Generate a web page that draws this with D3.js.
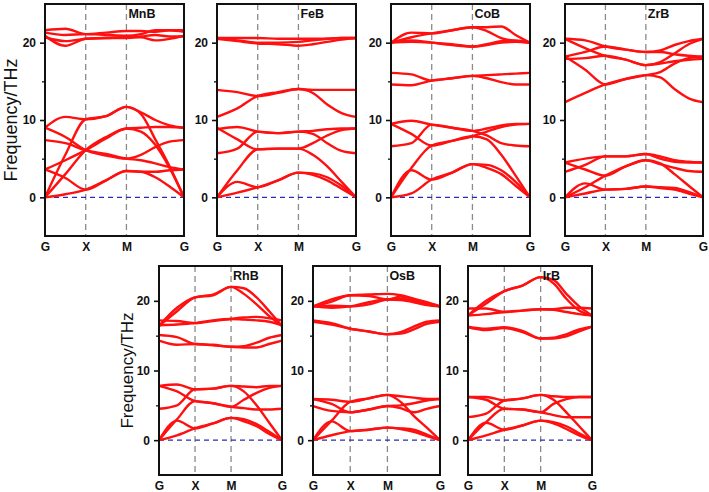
<!DOCTYPE html>
<html><head><meta charset="utf-8">
<script src="https://cdn.jsdelivr.net/npm/d3@7"></script>
<style>body{margin:0;background:#fff}svg{display:block}</style>
</head><body><svg id="c" width="709" height="492"></svg>
<script>
// ---- data ----
const kPoints = [0, 0.25, 0.5, 0.75, 1, 1.177, 1.354, 1.53, 1.707];
const symPoints = [0, 0.5, 1, 1.707];
const symLabels = ["G", "X", "M", "G"];
const yTicks = [0, 10, 20];
const yMinorTicks = [5, 15];
const materials = ["MnB", "FeB", "CoB", "ZrB", "RhB", "OsB", "IrB"];

const mnbBands = [
  [0, 0.4, 1.0, 2.2, 3.4, 3.3, 2.6, 1.4, 0],
  [3.6, 2.5, 1.0, 2.2, 3.4, 3.3, 3.3, 3.5, 3.6],
  [0, 3.0, 6.1, 7.8, 8.9, 9.0, 9.1, 9.1, 9.0],
  [3.6, 4.8, 6.1, 7.6, 8.9, 8.5, 6.8, 3.8, 0],
  [7.4, 7.0, 6.1, 5.6, 5.0, 4.8, 4.4, 3.9, 3.6],
  [9.0, 7.8, 6.1, 5.4, 5.0, 5.5, 6.5, 7.2, 7.4],
  [0, 5.5, 10.1, 10.5, 11.7, 10.8, 7.5, 4.0, 0],
  [9.0, 10.4, 10.1, 10.5, 11.7, 11.0, 10.0, 9.3, 9.0],
  [21.6, 21.8, 21.1, 21.3, 21.5, 21.5, 21.4, 21.6, 21.6],
  [21.3, 21.0, 21.1, 21.0, 20.9, 21.1, 21.6, 21.6, 21.4],
  [20.9, 19.6, 20.5, 20.6, 20.7, 20.7, 20.3, 20.5, 20.9],
  [20.7, 20.2, 20.5, 20.6, 20.6, 20.8, 21.0, 20.8, 20.8]
];
const febBands = [
  [0, 0.6, 1.3, 2.2, 3.2, 3.1, 2.6, 1.5, 0],
  [0, 2.0, 1.3, 2.2, 3.2, 2.9, 2.2, 1.1, 0],
  [0, 3.5, 6.2, 6.3, 6.3, 5.5, 4.0, 2.0, 0],
  [9.0, 7.5, 6.2, 6.3, 6.3, 7.0, 8.0, 8.7, 8.9],
  [5.7, 6.3, 8.5, 8.3, 8.5, 8.2, 7.0, 6.0, 5.7],
  [8.8, 9.1, 8.5, 8.3, 8.5, 8.6, 8.8, 8.9, 8.9],
  [13.9, 13.6, 13.1, 13.5, 14.0, 13.9, 13.9, 13.9, 13.9],
  [10.4, 11.5, 13.1, 13.6, 14.0, 13.5, 12.0, 10.9, 10.4],
  [20.6, 20.6, 20.6, 20.5, 20.5, 20.5, 20.5, 20.6, 20.6],
  [20.6, 20.3, 20.0, 20.0, 20.1, 20.3, 20.5, 20.6, 20.6],
  [20.5, 20.2, 19.9, 19.8, 19.6, 19.8, 20.1, 20.4, 20.6]
];
const cobBands = [
  [0, 0.5, 2.3, 3.2, 4.3, 4.2, 3.5, 2.0, 0],
  [0, 3.5, 2.3, 3.2, 4.3, 3.8, 3.0, 1.5, 0],
  [0, 3.8, 6.7, 7.3, 7.9, 7.5, 5.5, 2.8, 0],
  [9.5, 8.2, 6.7, 7.3, 7.9, 8.5, 9.1, 9.4, 9.5],
  [6.6, 7.0, 9.4, 9.0, 8.6, 8.0, 7.0, 6.7, 6.6],
  [9.5, 9.9, 9.4, 9.0, 8.6, 8.9, 9.3, 9.5, 9.5],
  [16.1, 15.9, 15.1, 15.4, 15.7, 15.8, 15.9, 16.0, 16.1],
  [14.6, 14.5, 15.1, 15.4, 15.7, 15.4, 14.9, 14.6, 14.6],
  [20.0, 21.3, 21.2, 21.6, 22.0, 22.0, 22.1, 21.0, 20.0],
  [20.0, 20.7, 21.2, 21.6, 22.0, 21.5, 20.6, 20.2, 20.0],
  [20.0, 20.1, 20.0, 19.8, 19.5, 19.7, 20.0, 20.1, 20.0],
  [20.0, 20.3, 20.0, 19.7, 19.5, 19.8, 20.2, 20.3, 20.0]
];
const zrbBands = [
  [0, 0.5, 1.0, 1.1, 1.4, 1.3, 1.2, 0.7, 0],
  [0, 1.8, 1.0, 1.1, 1.4, 1.2, 1.0, 0.5, 0],
  [0, 1.3, 2.8, 4.0, 4.8, 4.4, 3.0, 1.5, 0],
  [4.5, 3.6, 2.8, 4.0, 4.8, 4.3, 3.8, 3.4, 3.3],
  [3.3, 4.2, 5.3, 5.3, 5.6, 5.0, 4.6, 4.5, 4.5],
  [4.5, 5.0, 5.3, 5.3, 5.6, 5.3, 4.8, 4.6, 4.5],
  [20.5, 20.3, 19.5, 19.1, 18.8, 19.0, 19.7, 20.2, 20.5],
  [18.2, 18.8, 19.5, 19.1, 18.8, 18.8, 18.5, 18.3, 18.2],
  [20.5, 19.3, 18.3, 17.8, 17.1, 17.5, 18.6, 19.8, 20.5],
  [17.9, 18.0, 18.3, 17.8, 17.1, 17.3, 17.6, 17.8, 17.9],
  [18.2, 16.5, 14.6, 15.3, 15.8, 16.2, 17.3, 18.0, 18.2],
  [12.3, 13.5, 14.6, 15.3, 15.8, 15.5, 14.0, 12.8, 12.3]
];
const rhbBands = [
  [0, 0.7, 1.7, 2.4, 3.2, 3.0, 2.3, 1.2, 0],
  [0, 2.8, 1.7, 2.4, 3.2, 2.7, 2.0, 0.9, 0],
  [0, 3.0, 5.6, 5.3, 4.8, 4.6, 4.4, 4.4, 4.5],
  [7.8, 7.0, 5.6, 5.3, 4.8, 5.8, 6.8, 7.5, 7.8],
  [4.5, 5.0, 7.3, 7.4, 7.8, 7.0, 5.0, 2.5, 0],
  [7.8, 8.0, 7.3, 7.4, 7.8, 7.7, 7.6, 7.8, 7.8],
  [15.1, 14.8, 13.8, 13.7, 13.4, 13.5, 14.0, 14.7, 15.1],
  [14.3, 13.7, 13.8, 13.6, 13.4, 13.3, 13.3, 13.8, 14.3],
  [16.4, 19.0, 20.5, 20.8, 22.0, 21.8, 20.5, 18.5, 16.4],
  [16.4, 18.5, 20.5, 20.9, 22.0, 21.0, 19.5, 17.8, 16.4],
  [17.2, 17.1, 16.8, 17.1, 17.4, 17.6, 17.7, 17.5, 17.2],
  [16.5, 16.6, 16.8, 17.2, 17.4, 17.3, 17.2, 17.0, 16.5]
];
const osbBands = [
  [0, 0.7, 1.3, 1.5, 1.8, 1.7, 1.5, 0.8, 0],
  [0, 2.7, 1.3, 1.5, 1.8, 1.6, 1.2, 0.6, 0],
  [0, 2.8, 5.5, 6.0, 6.5, 5.5, 3.5, 1.8, 0],
  [5.9, 5.8, 5.5, 6.0, 6.5, 6.3, 6.1, 5.9, 5.9],
  [4.9, 4.2, 4.0, 4.4, 4.9, 4.6, 4.0, 4.5, 4.9],
  [5.9, 5.2, 4.0, 4.4, 4.9, 5.0, 5.3, 5.7, 5.9],
  [17.2, 16.8, 16.0, 15.6, 15.2, 15.5, 16.3, 17.0, 17.2],
  [17.0, 16.6, 16.0, 15.6, 15.2, 15.3, 15.9, 16.7, 17.0],
  [19.2, 20.2, 20.8, 20.9, 21.0, 20.8, 20.3, 19.8, 19.2],
  [19.2, 19.9, 20.8, 20.7, 20.2, 20.6, 20.2, 19.7, 19.2],
  [19.2, 19.0, 19.2, 19.8, 20.2, 20.1, 19.8, 19.4, 19.2],
  [19.2, 19.3, 19.2, 19.5, 20.2, 20.3, 20.0, 19.5, 19.2]
];
const irbBands = [
  [0, 0.7, 1.5, 2.1, 2.8, 2.6, 2.0, 1.0, 0],
  [0, 2.5, 1.5, 2.1, 2.8, 2.4, 1.6, 0.7, 0],
  [0, 2.6, 4.5, 4.4, 4.0, 3.6, 3.3, 3.3, 3.3],
  [6.2, 5.8, 4.5, 4.4, 4.0, 5.2, 5.9, 6.2, 6.2],
  [3.3, 3.8, 5.7, 6.0, 6.5, 5.8, 4.0, 2.0, 0],
  [6.2, 6.2, 5.7, 6.0, 6.5, 6.3, 6.2, 6.2, 6.2],
  [16.3, 16.0, 16.2, 15.7, 14.6, 14.7, 15.2, 15.9, 16.3],
  [16.2, 15.8, 16.1, 15.5, 14.6, 14.6, 14.9, 15.6, 16.3],
  [17.9, 20.0, 21.4, 22.2, 23.4, 23.0, 21.0, 19.2, 17.9],
  [17.9, 19.6, 21.4, 22.2, 23.4, 22.5, 20.3, 18.6, 17.9],
  [18.9, 18.9, 18.4, 18.6, 18.8, 18.8, 19.0, 19.0, 18.9],
  [17.9, 18.1, 18.4, 18.6, 18.8, 18.7, 18.4, 18.1, 17.9]
];
const bandsByMaterial = [mnbBands, febBands, cobBands, zrbBands, rhbBands, osbBands, irbBands];

// ---- layout ----
const panelBoxes = [
  {x0: 45, x1: 184, y0: 4, y1: 236},
  {x0: 217, x1: 356, y0: 4, y1: 236},
  {x0: 391, x1: 530, y0: 4, y1: 236},
  {x0: 565, x1: 703, y0: 4, y1: 236},
  {x0: 159, x1: 282, y0: 266, y1: 475},
  {x0: 313, x1: 440, y0: 266, y1: 475},
  {x0: 468, x1: 592, y0: 266, y1: 475}
];
const yTitles = [
  {panel: 0, x: 17, size: 18},
  {panel: 4, x: 133, size: 17}
];
const FONT = "'Liberation Sans', Arial, Helvetica, sans-serif";

const svg = d3.select("#c");

materials.forEach((name, i) => {
  const b = panelBoxes[i];
  const x = d3.scaleLinear().domain([0, symPoints[3]]).range([b.x0, b.x1]);
  const y = d3.scaleLinear().domain([-5, 25]).range([b.y1, b.y0]);
  const g = svg.append("g");

  // vertical dashed lines at X and M
  g.selectAll("line.vl").data(symPoints.slice(1, 3)).join("line")
    .attr("x1", d => x(d)).attr("x2", d => x(d))
    .attr("y1", b.y0).attr("y2", b.y1)
    .attr("stroke", "#8a8a8a").attr("stroke-width", 1.3)
    .attr("stroke-dasharray", "6,4");

  // zero line
  g.append("line")
    .attr("x1", b.x0).attr("x2", b.x1)
    .attr("y1", y(0)).attr("y2", y(0))
    .attr("stroke", "#2b2bb0").attr("stroke-width", 1.3)
    .attr("stroke-dasharray", "5,4");

  // bands
  const line = d3.line()
    .x((d, j) => x(kPoints[j]))
    .y(d => y(d))
    .curve(d3.curveMonotoneX);
  g.selectAll("path.band").data(bandsByMaterial[i]).join("path")
    .attr("class", "band")
    .attr("d", line)
    .attr("fill", "none")
    .attr("stroke", "#ff1010")
    .attr("stroke-width", 2.4);

  // frame
  g.append("rect")
    .attr("x", b.x0).attr("y", b.y0)
    .attr("width", b.x1 - b.x0).attr("height", b.y1 - b.y0)
    .attr("fill", "none").attr("stroke", "#111").attr("stroke-width", 2);

  // y axis major
  const ya = g.append("g").attr("transform", `translate(${b.x0},0)`)
    .call(d3.axisLeft(y).tickValues(yTicks).tickSize(5).tickPadding(4).tickFormat(d3.format("d")));
  ya.select(".domain").remove();
  ya.selectAll("line").attr("stroke", "#111").attr("stroke-width", 1.6);
  ya.selectAll("text").attr("font-family", FONT).attr("font-weight", "bold")
    .attr("font-size", 12).attr("fill", "#111");
  // y axis minor
  const ym = g.append("g").attr("transform", `translate(${b.x0},0)`)
    .call(d3.axisLeft(y).tickValues(yMinorTicks).tickSize(3).tickFormat(""));
  ym.select(".domain").remove();
  ym.selectAll("line").attr("stroke", "#111").attr("stroke-width", 1.3);

  // x axis labels
  const xa = g.append("g").attr("transform", `translate(0,${b.y1})`)
    .call(d3.axisBottom(x).tickValues(symPoints).tickSize(0).tickPadding(6)
      .tickFormat((d, j) => symLabels[j]));
  xa.select(".domain").remove();
  xa.selectAll("text").attr("font-family", FONT).attr("font-weight", "bold")
    .attr("font-size", 12).attr("fill", "#111");

  // title
  g.append("text")
    .attr("x", x(symPoints[2]) + 2).attr("y", b.y0 + 14)
    .attr("font-family", FONT).attr("font-weight", "bold").attr("font-size", 12.5)
    .attr("fill", "#111").text(name);

  const t = yTitles.find(d => d.panel === i);
  if (t) {
    const cy = (y(25) + y(-5)) / 2;
    g.append("text")
      .attr("transform", `translate(${t.x},${cy}) rotate(-90)`)
      .attr("text-anchor", "middle")
      .attr("font-family", FONT).attr("font-size", t.size)
      .attr("fill", "#111").text("Frequency/THz");
  }
});
</script>
</body></html>
